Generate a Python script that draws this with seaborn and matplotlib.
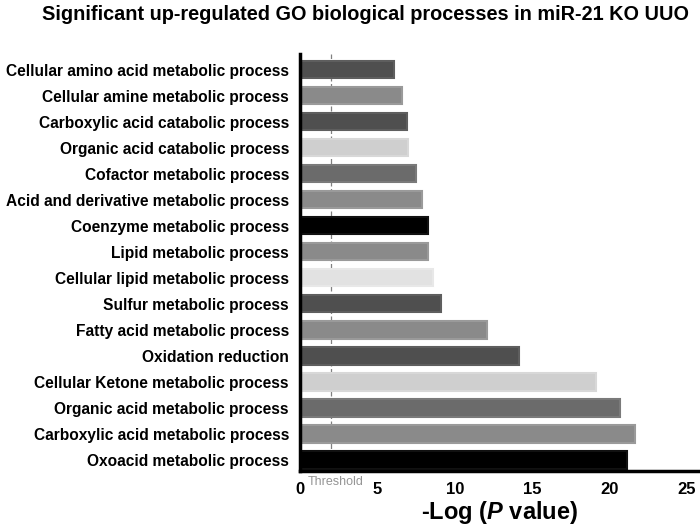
import matplotlib
matplotlib.use("Agg")
import matplotlib.pyplot as plt
import seaborn as sns
import pandas as pd

categories = [
    "Cellular amino acid metabolic process",
    "Cellular amine metabolic process",
    "Carboxylic acid catabolic process",
    "Organic acid catabolic process",
    "Cofactor metabolic process",
    "Acid and derivative metabolic process",
    "Coenzyme metabolic process",
    "Lipid metabolic process",
    "Cellular lipid metabolic process",
    "Sulfur metabolic process",
    "Fatty acid metabolic process",
    "Oxidation reduction",
    "Cellular Ketone metabolic process",
    "Organic acid metabolic process",
    "Carboxylic acid metabolic process",
    "Oxoacid metabolic process",
]
values = [6.05, 6.6, 6.9, 7.0, 7.5, 7.9, 8.3, 8.3, 8.6, 9.1,
          12.1, 14.15, 19.15, 20.65, 21.65, 21.15]
bar_colors = ["#4f4f4f", "#8a8a8a", "#4f4f4f", "#cfcfcf", "#6b6b6b", "#8a8a8a",
              "#000000", "#8a8a8a", "#e2e2e2", "#4f4f4f", "#8a8a8a", "#4f4f4f",
              "#cfcfcf", "#6b6b6b", "#8a8a8a", "#000000"]
edge_colors = ["#5e5e5e", "#9a9a9a", "#5e5e5e", "#d8d8d8", "#7a7a7a", "#9a9a9a",
               "#111111", "#9a9a9a", "#e8e8e8", "#5e5e5e", "#9a9a9a", "#5e5e5e",
               "#d8d8d8", "#7a7a7a", "#9a9a9a", "#111111"]
threshold = 2.0
title = "Significant up-regulated GO biological processes in miR-21 KO UUO"
xticks = [0, 5, 10, 15, 20, 25]

sns.set_style("white")
plt.rcParams['font.family'] = ['Liberation Sans', 'DejaVu Sans']
plt.rcParams['mathtext.fontset'] = 'custom'
plt.rcParams['mathtext.it'] = 'Liberation Sans:italic:bold'
plt.rcParams['mathtext.rm'] = 'Liberation Sans:bold'
plt.rcParams['text.color'] = 'black'
plt.rcParams['axes.labelcolor'] = 'black'
plt.rcParams['xtick.color'] = 'black'
plt.rcParams['ytick.color'] = 'black'

df = pd.DataFrame({"process": categories, "value": values})

fig = plt.figure(figsize=(7.0, 5.29), dpi=100)
ax = fig.add_axes([300/700, 58/529, 400/700, (471-54)/529])

sns.barplot(data=df, y="process", x="value", hue="process",
            palette=bar_colors, legend=False, ax=ax, width=0.66,
            orient="h", saturation=1)
for p, ec in zip(ax.patches, edge_colors):
    p.set_edgecolor(ec)
    p.set_linewidth(1.5)

ax.axvline(threshold, color="#808080", linestyle=(0, (4, 2)), linewidth=0.9, zorder=0.5)
ax.text(0.5, -0.012, "Threshold", transform=ax.get_xaxis_transform(),
        ha="left", va="top", fontsize=9, color="#959595")

ax.set_xlim(0, 25.85)
ax.set_ylim(15.42, -0.6)
ax.set_xticks(xticks)
ax.set_xticklabels([str(t) for t in xticks], fontsize=12, fontweight="bold")
ax.set_yticks(range(len(categories)))
ax.set_yticklabels(categories, fontsize=11.2, fontweight="bold")
ax.set_ylabel("")
ax.set_xlabel(r"-Log ($\mathit{P}$ value)", fontsize=17, fontweight="bold", labelpad=1)

for s in ["top", "right"]:
    ax.spines[s].set_visible(False)
for s in ["left", "bottom"]:
    ax.spines[s].set_linewidth(2.5)
    ax.spines[s].set_color("black")
ax.tick_params(axis="both", direction="out", length=6, width=2, color="black", pad=2)

fig.text(365/700, 1 - 14/529, title, ha="center", va="center", fontsize=14.3,
         fontweight="bold", color="black")

fig.savefig("out.png", dpi=100)
